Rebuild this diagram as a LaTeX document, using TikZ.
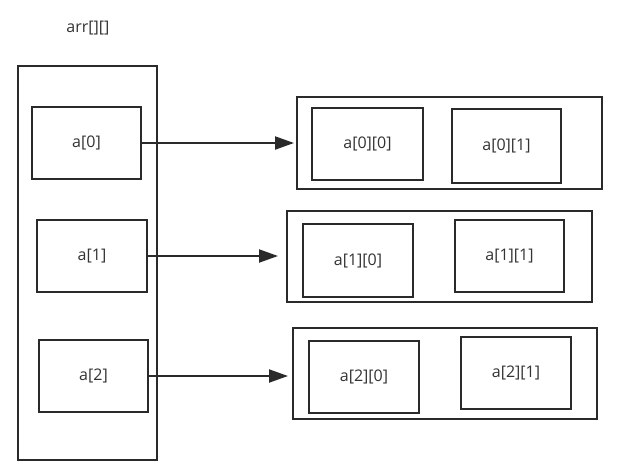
\documentclass[tikz,border=0pt]{standalone}
\usepackage{fontspec}
\setmainfont{Open Sans}
\usetikzlibrary{arrows.meta}
\definecolor{ln}{HTML}{2A2A2A}
\definecolor{tx}{HTML}{333333}
\begin{document}
\begin{tikzpicture}[x=1pt,y=-1pt,
  box/.style={draw=ln, line width=2pt, rectangle, inner sep=0pt, text=tx,
    font=\fontsize{16}{19}\selectfont},
  arr/.style={draw=ln, line width=2pt, -{Triangle[length=19pt,width=13pt]}}]
\useasboundingbox (0,0) rectangle (628,474);
\node[text=tx, font=\fontsize{16}{19}\selectfont] (lbl) at (88,28) {arr[][]};
\node[box, minimum width=139pt, minimum height=394pt] (L) at (87.5,263) {};
\node[box, minimum width=109pt, minimum height=72pt] (a0) at (86.5,143) {a[0]};
\node[box, minimum width=110pt, minimum height=72pt] (a1) at (92,256) {a[1]};
\node[box, minimum width=109pt, minimum height=72pt] (a2) at (93.5,376) {a[2]};
\node[box, minimum width=305pt, minimum height=92pt] (R0) at (449.5,143) {};
\node[box, minimum width=111pt, minimum height=72pt] (a00) at (367.5,144) {a[0][0]};
\node[box, minimum width=109pt, minimum height=74pt] (a01) at (506.5,146) {a[0][1]};
\node[box, minimum width=305pt, minimum height=91pt] (R1) at (439.5,256.5) {};
\node[box, minimum width=110pt, minimum height=73pt] (a10) at (358,260.5) {a[1][0]};
\node[box, minimum width=109pt, minimum height=72pt] (a11) at (509.5,256) {a[1][1]};
\node[box, minimum width=304pt, minimum height=91pt] (R2) at (445,373.5) {};
\node[box, minimum width=110pt, minimum height=72pt] (a20) at (364,377) {a[2][0]};
\node[box, minimum width=110pt, minimum height=72pt] (a21) at (516,373) {a[2][1]};
\draw[arr, shorten >=2pt] (a0.east) -- (a0.east -| R0.west);
\draw[arr, shorten >=8pt] (a1.east) -- (a1.east -| R1.west);
\draw[arr, shorten >=4pt] (a2.east) -- (a2.east -| R2.west);
\end{tikzpicture}
\end{document}
